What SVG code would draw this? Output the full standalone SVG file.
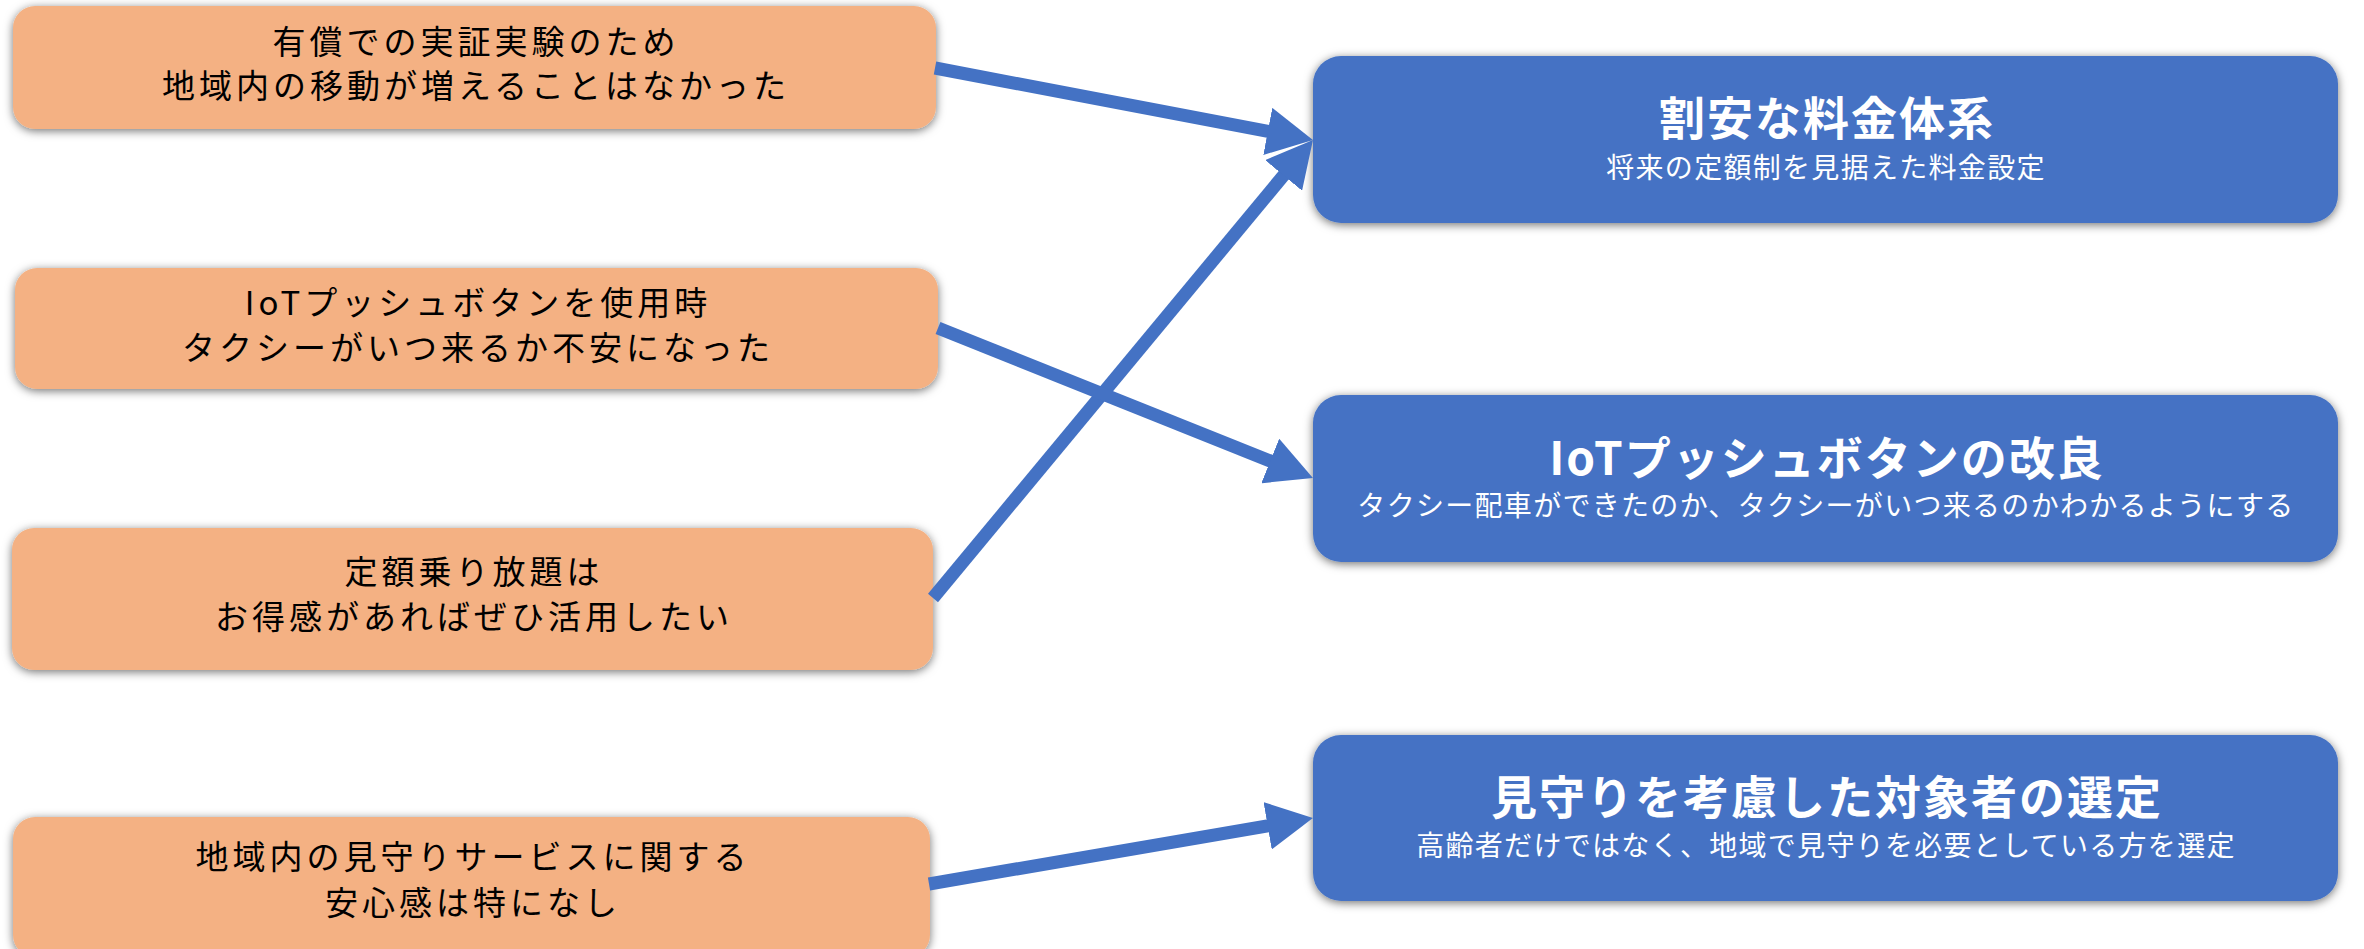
<svg xmlns="http://www.w3.org/2000/svg" width="2364" height="949" viewBox="0 0 2364 949">
<defs>
<filter id="sh" x="-5%" y="-20%" width="110%" height="140%">
<feDropShadow dx="0" dy="2" stdDeviation="5" flood-color="#000" flood-opacity="0.55"/>
</filter>
<marker id="ah" viewBox="0 0 46 48" refX="16" refY="24" markerWidth="46" markerHeight="48" markerUnits="userSpaceOnUse" orient="auto">
<path d="M0,0 L46,24 L0,48 z" fill="#4472C4"/>
</marker>
<style>
.src rect{fill:#F4B183;filter:url(#sh);}
.dst rect{fill:#4472C4;filter:url(#sh);}
.st{font-family:"Noto Sans CJK JP","Noto Sans",sans-serif;font-size:33px;letter-spacing:4px;fill:#000;text-anchor:middle;}
.tt{font-family:"Noto Sans CJK JP","Noto Sans",sans-serif;font-size:46px;letter-spacing:2px;font-weight:bold;fill:#fff;text-anchor:middle;}
.sb{font-family:"Noto Sans CJK JP","Noto Sans",sans-serif;font-size:28px;letter-spacing:1.3px;fill:#fff;text-anchor:middle;}
.conn line{stroke:#4472C4;stroke-width:13;fill:none;marker-end:url(#ah);}
</style>
</defs>
<g id="s1" class="src">
<rect x="13" y="6" width="923" height="123" rx="22"/>
<text class="st" x="476" y="54">有償での実証実験のため</text>
<text class="st" x="476" y="98">地域内の移動が増えることはなかった</text>
</g>
<g id="s2" class="src">
<rect x="15" y="268" width="923" height="121" rx="22"/>
<text class="st" x="478" y="315">IoTプッシュボタンを使用時</text>
<text class="st" x="478" y="360">タクシーがいつ来るか不安になった</text>
</g>
<g id="s3" class="src">
<rect x="12" y="528" width="921" height="142" rx="22"/>
<text class="st" x="474" y="584">定額乗り放題は</text>
<text class="st" x="474" y="629">お得感があればぜひ活用したい</text>
</g>
<g id="s4" class="src">
<rect x="13" y="817" width="917" height="140" rx="22"/>
<text class="st" x="473" y="869">地域内の見守りサービスに関する</text>
<text class="st" x="473" y="915">安心感は特になし</text>
</g>
<g id="d1" class="dst">
<rect x="1313" y="56" width="1025" height="167" rx="28"/>
<text class="tt" x="1827" y="135">割安な料金体系</text>
<text class="sb" x="1826" y="178">将来の定額制を見据えた料金設定</text>
</g>
<g id="d2" class="dst">
<rect x="1313" y="395" width="1025" height="167" rx="28"/>
<text class="tt" x="1827" y="475">IoTプッシュボタンの改良</text>
<text class="sb" x="1826" y="516">タクシー配車ができたのか、タクシーがいつ来るのかわかるようにする</text>
</g>
<g id="d3" class="dst">
<rect x="1313" y="735" width="1025" height="166" rx="28"/>
<text class="tt" x="1827" y="814">見守りを考慮した対象者の選定</text>
<text class="sb" x="1826" y="856">高齢者だけではなく、地域で見守りを必要としている方を選定</text>
</g>
<g id="connectors" class="conn">
<line x1="935" y1="68" x2="1283.5" y2="134.4"/>
<line x1="933" y1="598" x2="1293.8" y2="163.1"/>
<line x1="938" y1="328" x2="1285.1" y2="466.9"/>
<line x1="929" y1="884" x2="1283.4" y2="823.1"/>
</g>
</svg>
